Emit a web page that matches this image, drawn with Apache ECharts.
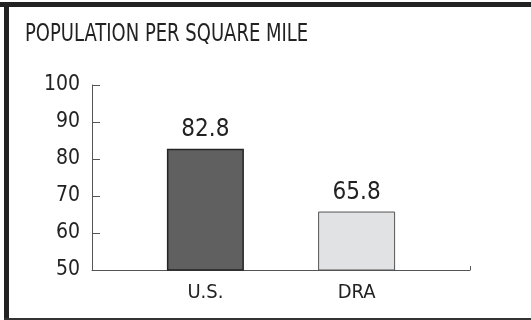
<!DOCTYPE html>
<html>
<head>
<meta charset="utf-8">
<script src="https://cdn.jsdelivr.net/npm/echarts@6/dist/echarts.min.js"></script>
<style>
html,body{margin:0;padding:0;background:#fff;}
#chart{width:531px;height:320px;}
</style>
</head>
<body>
<div id="chart"></div>
<script>
var titleText = 'POPULATION PER SQUARE MILE';
var categories = ['U.S.', 'DRA'];
var values = [82.8, 65.8];
var barColors = ['#606060', '#e1e2e4'];
var barBorders = ['#252525', '#555555'];
var yMin = 50, yMax = 100, yStep = 10;

var FONT = '"DejaVu Sans Condensed", "DejaVu Sans", sans-serif';

// pad categories so bars sit at 30% and 70% of the axis width
var xData = ['', categories[0], '', categories[1], ''];
var barData = [
  '-',
  {value: values[0], itemStyle: {color: barColors[0], borderColor: barBorders[0], borderWidth: 1.5}},
  '-',
  {value: values[1], itemStyle: {color: barColors[1], borderColor: barBorders[1], borderWidth: 1}},
  '-'
];

var chart = echarts.init(document.getElementById('chart'), null, {renderer: 'canvas'});
chart.setOption({
  animation: false,
  backgroundColor: '#ffffff',
  graphic: [
    {type: 'rect', shape: {x: 0, y: 2, width: 531, height: 5}, style: {fill: '#222'}},
    {type: 'rect', shape: {x: 4, y: 2, width: 5, height: 318}, style: {fill: '#222'}},
    {type: 'rect', shape: {x: 4, y: 318, width: 527, height: 2}, style: {fill: '#333'}},
    {
      type: 'text', x: 25, y: 22, scaleX: 0.8, originX: 0,
      style: {text: titleText, fontFamily: FONT, fontSize: 25, fill: '#222', textVerticalAlign: 'top'}
    }
  ],
  grid: {left: 92, right: 61, top: 85, bottom: 50, containLabel: false},
  xAxis: {
    type: 'category',
    data: xData,
    boundaryGap: true,
    axisLine: {show: true, lineStyle: {color: '#555', width: 1}},
    axisTick: {show: true, inside: true, length: 4, interval: 10, lineStyle: {color: '#555', width: 1}},
    axisLabel: {interval: 0, margin: 13, fontFamily: FONT, fontSize: 20, color: '#222'},
    splitLine: {show: false}
  },
  yAxis: {
    type: 'value',
    min: yMin, max: yMax, interval: yStep,
    axisLine: {show: true, lineStyle: {color: '#555', width: 1}},
    axisTick: {show: true, inside: true, length: 8, lineStyle: {color: '#555', width: 1}},
    axisLabel: {margin: 12, fontFamily: FONT, fontSize: 21, color: '#222'},
    splitLine: {show: false}
  },
  series: [{
    type: 'bar',
    data: barData,
    barWidth: 77,
    label: {
      show: true, position: 'top', distance: 7,
      fontFamily: FONT, fontSize: 24, color: '#222',
      formatter: function (p) { return p.value; }
    }
  }]
});
</script>
</body>
</html>
